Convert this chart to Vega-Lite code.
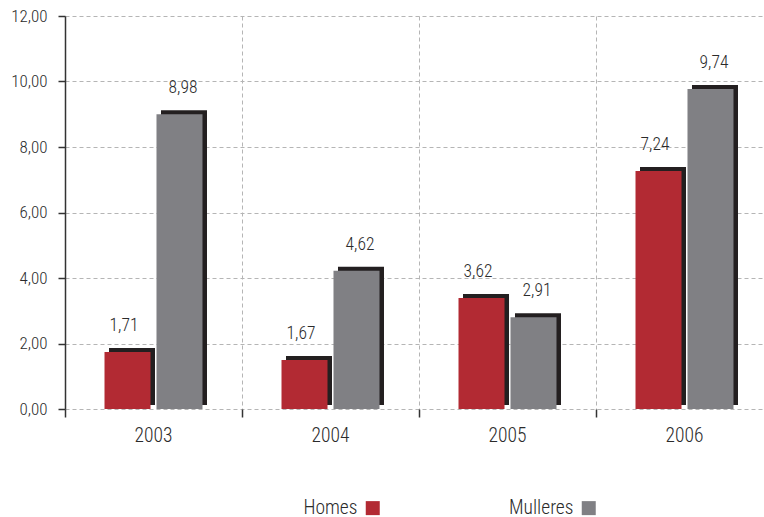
{
  "$schema": "https://vega.github.io/schema/vega-lite/v6.json",
  "width": 699,
  "height": 393,
  "autosize": "none",
  "padding": {"left": 65, "top": 16, "right": 0, "bottom": 108},
  "background": "white",
  "config": {
    "view": {"stroke": null},
    "font": "Roboto Condensed, Roboto, sans-serif",
    "axis": {
      "gridColor": "#b5b5b5",
      "gridDash": [4, 3],
      "gridWidth": 1,
      "labelFont": "Roboto Condensed, Roboto, sans-serif",
      "labelFontWeight": 300,
      "labelColor": "#2b2b2b",
      "tickColor": "#333333",
      "domainColor": "#333333",
      "title": null
    }
  },
  "data": {
    "values": [
      {"year": "2003", "sex": "Homes", "value": 1.74, "label": "1,71"},
      {"year": "2003", "sex": "Mulleres", "value": 9.0, "label": "8,98"},
      {"year": "2004", "sex": "Homes", "value": 1.5, "label": "1,67"},
      {"year": "2004", "sex": "Mulleres", "value": 4.22, "label": "4,62"},
      {"year": "2005", "sex": "Homes", "value": 3.39, "label": "3,62"},
      {"year": "2005", "sex": "Mulleres", "value": 2.8, "label": "2,91"},
      {"year": "2006", "sex": "Homes", "value": 7.27, "label": "7,24"},
      {"year": "2006", "sex": "Mulleres", "value": 9.77, "label": "9,74"}
    ]
  },
  "encoding": {
    "x": {
      "field": "year",
      "type": "nominal",
      "scale": {"range": [0, 708], "paddingInner": 0, "paddingOuter": 0},
      "axis": {
        "bandPosition": 0,
        "grid": true,
        "domain": false,
        "tickSize": 8,
        "tickWidth": 1.5,
        "labelOffset": 0,
        "labelAngle": 0,
        "labelFontSize": 19.5,
        "labelPadding": 9,
        "title": null
      }
    },
    "y": {
      "field": "value",
      "type": "quantitative",
      "scale": {"domain": [0, 12], "nice": false},
      "axis": {
        "values": [0, 2, 4, 6, 8, 10, 12],
        "labelExpr": "replace(format(datum.value, '.2f'), '.', ',')",
        "grid": true,
        "domain": true,
        "domainWidth": 1.5,
        "tickSize": 7,
        "tickWidth": 1.5,
        "labelFontSize": 17,
        "labelPadding": 11,
        "title": null
      }
    }
  },
  "resolve": {"scale": {"xOffset": "independent"}},
  "layer": [
    {
      "mark": {"type": "bar", "color": "#231f20", "yOffset": -4, "y2Offset": -4},
      "encoding": {
        "xOffset": {
          "field": "sex",
          "type": "nominal",
          "scale": {"range": [4.5, 181.5], "paddingInner": 0.115, "paddingOuter": 0.76}
        }
      }
    },
    {
      "mark": {"type": "bar"},
      "encoding": {
        "xOffset": {
          "field": "sex",
          "type": "nominal",
          "scale": {"range": [0, 177], "paddingInner": 0.115, "paddingOuter": 0.76}
        },
        "color": {
          "field": "sex",
          "type": "nominal",
          "scale": {"domain": ["Homes", "Mulleres"], "range": ["#b22a33", "#808084"]},
          "legend": {
            "title": null,
            "orient": "none",
            "direction": "horizontal",
            "legendX": 298,
            "legendY": 482,
            "padding": 0,
            "symbolType": "square",
            "symbolSize": 196,
            "symbolStrokeWidth": 0,
            "labelAlign": "right",
            "labelOffset": -25,
            "labelFontSize": 19.5,
            "labelFontWeight": 300,
            "labelColor": "#2b2b2b",
            "labelFont": "Roboto Condensed, Roboto, sans-serif",
            "columnPadding": 128
          }
        }
      }
    },
    {
      "mark": {"type": "text", "baseline": "middle", "align": "center", "dy": -26, "fontSize": 17.5, "fontWeight": 300, "color": "#2b2b2b"},
      "encoding": {
        "xOffset": {
          "field": "sex",
          "type": "nominal",
          "scale": {"type": "point", "range": [0, 177], "padding": 1.2}
        },
        "text": {"field": "label"}
      }
    }
  ]
}
